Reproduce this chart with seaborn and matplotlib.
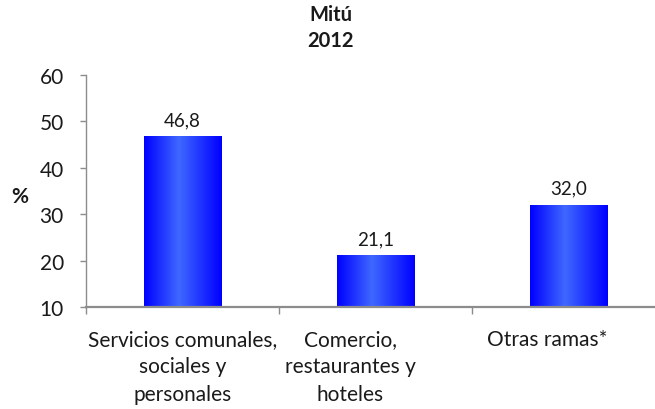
import numpy as np
import pandas as pd
import matplotlib
matplotlib.use("Agg")
import matplotlib.pyplot as plt
import matplotlib.transforms as mtransforms
from matplotlib.colors import LinearSegmentedColormap
import seaborn as sns

# Employment share by economic branch, Mitú 2012
categories = ["Servicios comunales,\nsociales y\npersonales",
              "Comercio,\nrestaurantes y\nhoteles",
              "Otras ramas*"]
values = [46.8, 21.1, 32.0]
value_labels = ["46,8", "21,1", "32,0"]
yticks = [10, 20, 30, 40, 50, 60]

sns.set_theme(style="white")
plt.rcParams["font.family"] = ["Lato", "DejaVu Sans"]

FS = 15
TXT = "#1a1a1a"
AXC = "#8c8c8c"

df = pd.DataFrame({"rama": categories, "pct": values})

fig = plt.figure(figsize=(6.55, 4.10), dpi=100)
ax = fig.add_axes([86 / 655, 1 - 308 / 410, 579 / 655, 232 / 410])

sns.barplot(data=df, x="rama", y="pct", ax=ax, width=0.40,
            color="#0000ff", saturation=1, edgecolor="none")

ax.set_ylim(10, 60)
ax.set_xlim(-0.5, 2.5)
ax.set_yticks(yticks)
ax.set_yticklabels([str(t) for t in yticks], fontsize=FS, color=TXT)

# horizontal shading inside each bar
grad_cmap = LinearSegmentedColormap.from_list(
    "bar_shade", [(0.0, "#0000ff"), (0.45, "#3f68ff"), (1.0, "#0000ff")])
grad = np.linspace(0, 1, 256).reshape(1, -1)
for patch in ax.patches:
    x0, y0 = patch.get_x(), patch.get_y()
    w, h = patch.get_width(), patch.get_height()
    img = ax.imshow(grad, cmap=grad_cmap, aspect="auto",
                    extent=[x0, x0 + w, 10, y0 + h], zorder=patch.get_zorder() + 0.1)
    img.set_clip_path(patch)
    patch.set_facecolor("none")

# value labels over the bars
for patch, txt in zip(ax.patches, value_labels):
    ax.annotate(txt, (patch.get_x() + patch.get_width() / 2, patch.get_height()),
                xytext=(0, 6), textcoords="offset points", ha="center", va="bottom",
                fontsize=13.5, color=TXT)

# axes styling
for side in ["top", "right"]:
    ax.spines[side].set_visible(False)
ax.spines["left"].set_color(AXC)
ax.spines["bottom"].set_color(AXC)
ax.spines["left"].set_linewidth(1.0)
ax.spines["bottom"].set_linewidth(1.6)

ax.tick_params(axis="y", which="major", left=True, length=4, width=1,
               color=AXC, pad=12, direction="out")
ax.set_xticks([0, 1, 2])
ax.set_xticklabels(categories, fontsize=FS, color=TXT, linespacing=1.45)
ax.tick_params(axis="x", which="major", bottom=False, pad=10)

# category boundary ticks on the x axis
ax.set_xticks([-0.5, 0.5, 1.5, 2.5], minor=True)
ax.tick_params(axis="x", which="minor", bottom=True, length=5, width=1,
               color=AXC, direction="out")

# shift wrapped labels as laid out in the original
shifts = [0, -25, -21]
for lbl, dx in zip(ax.get_xticklabels(), shifts):
    lbl.set_transform(lbl.get_transform() +
                      mtransforms.ScaledTranslation(dx / 100, 0, fig.dpi_scale_trans))

ax.set_xlabel("")
ax.set_ylabel("")
fig.text(20 / 655, 1 - 197 / 410, "%", fontsize=FS, fontweight="bold",
         ha="center", va="center", color=TXT)
fig.text(331 / 655, 1 - 28 / 410, "Mitú\n2012", fontsize=14.5, fontweight="bold",
         ha="center", va="center", linespacing=1.38, color=TXT)

fig.savefig("out.png", dpi=100)
